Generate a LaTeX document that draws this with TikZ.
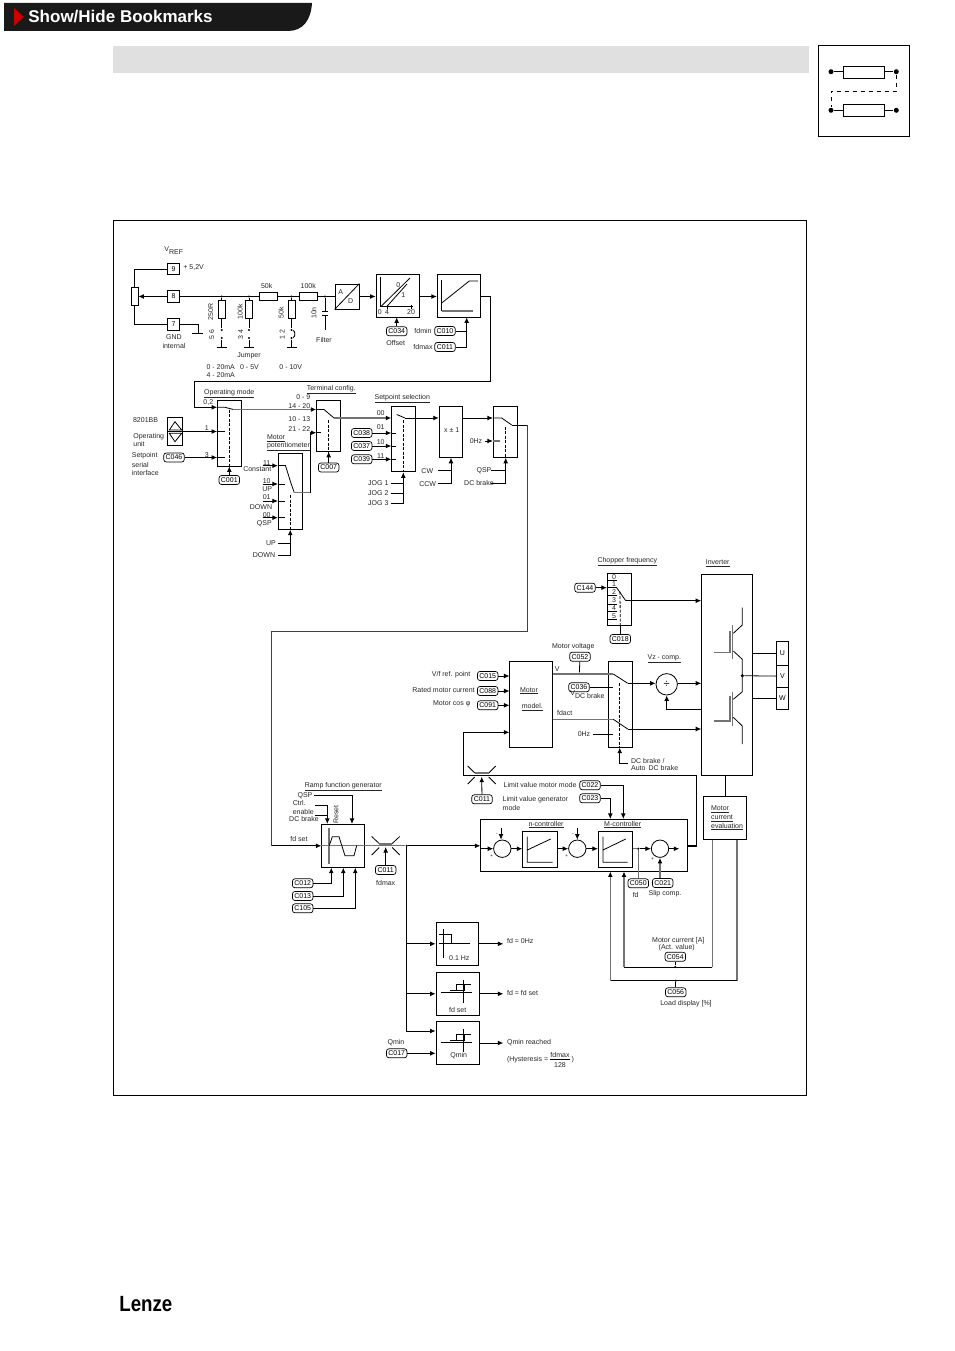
\documentclass[tikz,border=0pt]{standalone}
\usepackage{fontspec}
\setmainfont{Liberation Sans}
\usepackage{tikz}
\usetikzlibrary{arrows.meta}

\begin{document}
\begin{tikzpicture}[x=1pt,y=-1pt,line width=.8pt,
            every node/.style={font=\fontsize{7}{8}\selectfont,inner sep=0pt},
            box/.style={draw,rectangle,minimum width=#1,minimum height=#1},
            code/.style={draw,rectangle,rounded corners=2.5pt,line width=.7pt,minimum width=20.5pt,minimum height=9pt},
            term/.style={draw,rectangle,minimum width=12.5pt,minimum height=11.5pt},
            sumc/.style={draw,circle,minimum size=17.4pt},
            jd/.style={fill=black,circle,minimum size=2.4pt},
            sd/.style={fill=black,circle,minimum size=5pt},
            sig/.style={-{Latex[length=5.5pt,width=4.8pt,color=black]}},
            gline/.style={color=black!55,line width=1.3pt},
            dash1/.style={dash pattern=on 3pt off 1.5pt}]
            \useasboundingbox (0,0) rectangle (954,1351);

            \fill[black!90] (4,3) -- (312,3) .. controls (311,20) and (303,31) .. (288,31) -- (4,31) -- cycle;
            \fill[red!80!black] (14,8) -- (24,17) -- (14,26) -- cycle;
            \node[anchor=west,white,font=\fontsize{17}{18}\selectfont\bfseries] (title) at (28,17) {Show/Hide Bookmarks};
            \fill[black!12] (113,46) rectangle (809,73);
            \draw[line width=1.3pt] (113.5,220.5) rectangle (806.5,1095.5);
            \node[xscale=.85,anchor=west,font=\fontsize{22}{23}\selectfont\bfseries] (logo) at (119,1304) {Lenze};

            \node[box=91pt] (smallbox) at (864,90.5) {};
            \node[box=12.3pt,minimum width=41.4pt] (sr1) at (864,72.2) {};
            \node[box=12.3pt,minimum width=41.4pt] (sr2) at (864,110.5) {};
            \node[sd] (sd1) at (831,71.7) {};
            \node[sd] (sd2) at (896.3,71.7) {};
            \node[sd] (sd3) at (831,110.3) {};
            \node[sd] (sd4) at (896.3,110.3) {};
            \draw[line width=1.5pt] (sd1) -- (sr1.west |- sd1);
            \draw[line width=1.5pt] (sr1.east |- sd2) -- (sd2);
            \draw (sd3) -- (sr2.west |- sd3);
            \draw (sr2.east |- sd4) -- (sd4);
            \draw[dash pattern=on 4pt off 4pt] (sd2) -- ++(0,19.3) -| (sd3);

            \begin{scope}
                \node[term] (t9) at (173.5,269) {9};
                \node[term] (t8) at (173.5,296.5) {8};
                \node[term] (t7) at (173.5,324.5) {7};
                \node[box=18pt,minimum width=7pt] (pot) at (134.5,296.5) {};
                \node[box=7.5pt,minimum width=18pt] (r50) at (268,296.5) {};
                \node[box=7.5pt,minimum width=18pt] (r100) at (308,296.5) {};
                \node[box=17.5pt,minimum width=7pt] (ra) at (221.7,309.5) {};
                \node[box=17.5pt,minimum width=7pt] (rb) at (249,309.5) {};
                \node[box=17.5pt,minimum width=7pt] (rc) at (291.5,309.5) {};
                \node[box=25pt,minimum width=24pt] (adconv) at (347,296.5) {};
                \node[box=43pt] (offbox) at (397.5,295.5) {};
                \node[box=43pt,minimum width=43.5pt] (limbox) at (459,295.5) {};

                \node[box=66pt,minimum width=24pt] (opmode) at (229.5,433) {};
                \node[box=51.3pt,minimum width=24pt] (termcfg) at (328.7,425.7) {};
                \node[box=65.7pt,minimum width=23.6pt] (setsel) at (403.5,439) {};
                \node[box=51.3pt,minimum width=23.7pt] (signbox) at (451,431.7) {};
                \node[box=51.3pt,minimum width=24pt] (brakesw) at (505.3,431.7) {};
                \node[box=76pt,minimum width=24pt] (potbox) at (290.3,491.3) {};
                \node[box=28.4pt,minimum width=15.4pt] (opunit) at (175,431.5) {};

                \node[box=52pt,minimum width=24pt] (chopper) at (619.3,599.7) {};
                \node[box=201pt,minimum width=50.6pt,line width=1pt] (inverter) at (727,674.5) {};
                \node[box=85.6pt,minimum width=42.3pt] (model) at (531,704.5) {};
                \node[box=85.6pt,minimum width=23.7pt] (dcsw) at (620.2,704.5) {};
                \node[box=23.3pt,minimum width=11.6pt] (phu) at (782.5,653.3) {U};
                \node[box=22.3pt,minimum width=11.6pt] (phv) at (782.5,676.1) {V};
                \node[box=22.3pt,minimum width=11.6pt] (phw) at (782.5,698.4) {W};
                \node[sumc,minimum size=21.4pt,font=\fontsize{11}{11}\selectfont] (vzdiv) at (666.7,684.3) {÷};

                \node[box=43pt] (ramp) at (343.2,845.8) {};
                \node[box=51.7pt,minimum width=206.6pt] (ctrl) at (584,845.2) {};
                \node[box=36pt,minimum width=35pt] (nctrl) at (540.2,849.3) {};
                \node[box=36pt,minimum width=34.4pt] (mctrl) at (615.5,849.3) {};
                \node[box=42.6pt,minimum width=43.4pt] (mceval) at (725,818) {};
                \node[sumc] (sum1) at (502.3,848.7) {};
                \node[sumc] (sum2) at (577.3,848.7) {};
                \node[sumc] (sum3) at (660,848.7) {};

                \node[box=43pt,minimum width=42.7pt] (qzero) at (457.3,943.8) {};
                \node[box=43pt,minimum width=43.7pt] (qset) at (457.8,993.8) {};
                \node[box=42.6pt,minimum width=43.7pt] (qmin) at (457.8,1043) {};
            \end{scope}

            \begin{scope}[every node/.append style={code}]
                \node (c034) at (396.7,331.3) {C034};
                \node (c010) at (445,331) {C010};
                \node (c011a) at (445,347) {C011};
                \node (c046) at (174,457.5) {C046};
                \node (c001) at (229.3,480) {C001};
                \node (c007) at (328.7,467.5) {C007};
                \node (c038) at (361.7,433) {C038};
                \node (c037) at (361.7,446) {C037};
                \node (c039) at (361.7,459.3) {C039};
                \node (c144) at (585,587.7) {C144};
                \node (c018) at (620.3,639) {C018};
                \node (c052) at (580,656.7) {C052};
                \node (c036) at (579,687.3) {C036};
                \node (c015) at (487.7,676) {C015};
                \node (c088) at (487.7,691) {C088};
                \node (c091) at (487.7,705.3) {C091};
                \node (c011b) at (482,799.3) {C011};
                \node (c022) at (590,785.3) {C022};
                \node (c023) at (590,798.3) {C023};
                \node (c012) at (302.7,883.3) {C012};
                \node (c013) at (302.7,896) {C013};
                \node (c105) at (302.7,908.3) {C105};
                \node (c011c) at (385.7,870) {C011};
                \node (c050) at (638.3,883.3) {C050};
                \node (c021) at (662.7,883) {C021};
                \node (c054) at (675.3,956.7) {C054};
                \node (c056) at (675.7,992.3) {C056};
                \node (c017) at (396.7,1053.3) {C017};
            \end{scope}

            \node[jd] (d1) at (221.7,296.5) {};
            \node[jd] (d2) at (249,296.5) {};
            \node[jd] (d3) at (291.5,296.5) {};
            \node[jd] (d4) at (325,296.5) {};
            \node[jd] (j5a) at (221.7,330) {};
            \node[jd] (j5b) at (221.7,338) {};
            \node[jd] (j3a) at (249,330) {};
            \node[jd] (j3b) at (249,338) {};
            \node[jd] (j1a) at (291.5,330) {};
            \node[jd] (j1b) at (291.5,338) {};
            \node[jd] (d5) at (406.7,845.8) {};
            \node[jd] (d6) at (638.3,848.7) {};
            \node[jd] (d7) at (579.3,674) {};
            \node[jd,minimum size=3.5pt] (d8) at (742.3,675.7) {};
            \node[jd] (d9) at (675.3,967) {};
            \node[jd] (d10) at (675.7,980.7) {};

            \coordinate (gtop) at (198,324.5);
            \coordinate (gbar) at (198,333);
            \coordinate (g5) at (221.7,347.7);
            \coordinate (g3) at (249,347.7);
            \coordinate (g1) at (291.5,347.7);
            \coordinate (cap1) at (325,311);
            \coordinate (cap2) at (325,315);
            \coordinate (cap3) at (325,330);
            \coordinate (limout) at (490.7,381.7);
            \coordinate (limleft) at (194,381.7);
            \coordinate (opin) at (194,407.3);
            \coordinate (fdmaxj) at (466.7,331);
            \coordinate (sw1a) at (225,407.3);
            \coordinate (sw1b) at (233.3,409.5);
            \coordinate (sw2a) at (324,409.5);
            \coordinate (sw2b) at (334,418);
            \coordinate (sw3a) at (396.7,414.5);
            \coordinate (sw3b) at (405,418);
            \coordinate (sw4a) at (501.7,418);
            \coordinate (sw4b) at (511.7,425);
            \coordinate (brk1) at (527.3,425);
            \coordinate (brk2) at (527.3,631.7);
            \coordinate (brk3) at (271.5,631.7);
            \coordinate (brk4) at (271.5,845.8);
            \coordinate (mpa) at (285.5,465.7);
            \coordinate (mpb) at (291,483.3);
            \coordinate (mpc) at (294.3,492.7);
            \coordinate (mpd) at (310.3,492.7);
            \coordinate (mpe) at (310.3,432.7);
            \coordinate (mi1) at (262.7,465.7);
            \coordinate (mi2) at (262.7,484);
            \coordinate (mi3) at (262.7,501);
            \coordinate (mi4) at (262.7,517.7);
            \coordinate (pu1) at (278.3,543.3);
            \coordinate (pu2) at (290.3,543.3);
            \coordinate (pd1) at (278.3,555);
            \coordinate (jg1) at (391,483.3);
            \coordinate (jg2) at (391,493.3);
            \coordinate (jg3) at (391,503.3);
            \coordinate (jgv) at (403.3,483.3);
            \coordinate (jgw) at (403.3,493.3);
            \coordinate (cw1) at (438,470.7);
            \coordinate (ccw1) at (438,483.3);
            \coordinate (bq1) at (491,470.7);
            \coordinate (bd1) at (491,483.3);
            \coordinate (hz1) at (485,441);
            \coordinate (termd) at (328.7,420);
            \coordinate (setd) at (403.3,420);
            \coordinate (brkd) at (505.7,426.7);
            \coordinate (potd) at (290.3,495);
            \coordinate (chopd) at (620,591.7);
            \coordinate (dcd) at (619.7,683);
            \coordinate (ocha) at (616.7,587.7);
            \coordinate (ochb) at (625.7,600.7);
            \coordinate (vsa) at (613.3,674);
            \coordinate (vsb) at (627.7,683.3);
            \coordinate (fsa) at (613.3,719.3);
            \coordinate (fsb) at (627.7,729);
            \coordinate (vd2) at (612.7,687.3);
            \coordinate (hz2a) at (593.3,734.3);
            \coordinate (hz2b) at (612.7,734.3);
            \coordinate (vzfb) at (666.7,709.3);
            \coordinate (qsw) at (406.7,1031);
            \coordinate (ctr) at (696.7,846);
            \coordinate (ctu) at (696.7,775.3);
            \coordinate (ctl) at (463.3,775.3);
            \coordinate (ctm) at (463.3,732.3);
            \coordinate (ibot) at (610.3,980.7);
            \coordinate (iact) at (624,967);
            \coordinate (imr) at (712.3,967);
            \coordinate (ilr) at (737,980.7);
            \coordinate (dcb) at (628.3,763.3);
            \coordinate (lim1) at (385.7,847);
            \coordinate (lim2) at (481.7,776.7);
            \coordinate (rq1) at (314.3,795.7);
            \coordinate (rqj) at (352,795.7);
            \coordinate (rc1) at (315,805);
            \coordinate (re1) at (315,815);
            \coordinate (rcj) at (327.3,805);
            \coordinate (rb1) at (331.3,883.3);
            \coordinate (rb2) at (343.3,896);
            \coordinate (rb3) at (355.3,908.3);
            \coordinate (cm1) at (623.3,785.3);
            \coordinate (cm2) at (610.3,798.3);
            \coordinate (st1) at (501,828.3);
            \coordinate (st2) at (577.3,828.3);
            \coordinate (s3o) at (679.3,848.7);
            \coordinate (oe1) at (503.3,943.8);
            \coordinate (oe2) at (503.3,993.8);
            \coordinate (oe3) at (503.3,1043);

            \begin{scope}[every edge/.style={draw}]
                \draw (t9.west) -| (pot.north);
                \draw (t7.west) -| (pot.south);
                \path [sig] (t8) edge (pot.east |- t8);
                \draw (t7.east) -- (gtop) -- (gbar);
                \draw (gbar) ++(-6,0) -- ++(11,0);
                \path [-] (t8.east) edge (r50.west);
                \path [-] (r50.east) edge (r100.west);
                \path [-] (r100.east) edge (adconv.west);
                \path [-] (d1) edge (ra.north);
                \path [-] (d2) edge (rb.north);
                \path [-] (d3) edge (rc.north);
                \path [-] (ra.south) edge (j5a);
                \path [-] (rb.south) edge (j3a);
                \path [-] (rc.south) edge (j1a);
                \path [-] (j5b) edge (g5);
                \path [-] (j3b) edge (g3);
                \path [-] (j1b) edge (g1);
                \draw (j1a) .. controls (295.5,331) and (295.5,337) .. (j1b);
                \draw (g5) ++(-5,0) -- ++(10,0);
                \draw (g3) ++(-5,0) -- ++(10,0);
                \draw (g1) ++(-5,0) -- ++(10,0);
                \path [-] (d4) edge (cap1);
                \path [-] (cap2) edge (cap3);
                \draw (cap1) ++(-3,0) -- ++(6,0);
                \draw (cap2) ++(-3,0) -- ++(6,0);
                \path [sig] (adconv.east) edge (offbox.west |- adconv);
                \path [sig] (offbox.east |- adconv) edge (limbox.west |- adconv);
                \path [sig] (c034) edge (offbox.south -| c034);
                \draw (c010.east) -- (fdmaxj);
                \draw [sig] (c011a.east) -| (limbox.south -| fdmaxj);

                \draw [sig] (limbox.east |- t8) -| (limout) -- (limleft) -- (opin) -- (opmode.west |- opin);
                \draw (opmode.west |- opin) -- (sw1a) -- (sw1b);
                \draw [gline,sig] (sw1b) -- (termcfg.west |- sw1b);
                \draw (termcfg.west |- sw1b) -- (sw2a) -- (sw2b);
                \draw [gline,sig] (sw2b) -- (setsel.west |- sw2b);
                \draw (sw3a) -- (sw3b);
                \draw [sig] (sw3b) -- (signbox.west |- sw3b);
                \path [sig] (signbox.east |- sw4a) edge (brakesw.west |- sw4a);
                \draw (brakesw.west |- sw4a) -- (sw4a) -- (sw4b);
                \draw (sw4b) -- (brk1);
                \draw [color=black!75] (brk1) -- (brk2) -- (brk3) -- (brk4);
                \draw [sig] (brk4) -- (ramp.west |- brk4);

                \path [sig] (opunit.east) edge (opmode.west |- opunit);
                \path [sig] (c046.east) edge (opmode.west |- c046);
                \path [-] (opmode.west |- opunit) edge ++(7.5,0);
                \path [-] (opmode.west |- c046) edge ++(7.5,0);
                \path [sig] (c001) edge (opmode.south -| c001);
                \draw [dash1] (sw1b -| c001) -- (opmode.south -| c001);
                \draw [dash1] (termd) -- (termcfg.south -| c007);
                \path [sig] (c007) edge (termcfg.south -| c007);
                \draw [dash1] (setd) -- (setsel.south -| setd);
                \draw [dash1] (brkd) -- (brakesw.south -| brkd);
                \draw [dash1] (potd) -- (potbox.south);
                \draw [dash1] (chopd) -- (chopper.south -| c018);
                \draw [dash1] (dcd) -- (dcsw.south -| dcd);

                \path [sig] (mi1) edge (potbox.west |- mi1);
                \path [sig] (mi2) edge (potbox.west |- mi2);
                \path [sig] (mi3) edge (potbox.west |- mi3);
                \path [sig] (mi4) edge (potbox.west |- mi4);
                \path [-] (potbox.west |- mi1) edge (mpa);
                \path [-] (potbox.west |- mi2) edge ++(6.7,0);
                \path [-] (potbox.west |- mi3) edge ++(6.7,0);
                \path [-] (potbox.west |- mi4) edge ++(6.7,0);
                \draw (mpa) -- (mpb) -- (mpc);
                \draw [gline] (mpc) -- (mpd);
                \draw [sig] (mpd) -- (mpe) -- (termcfg.west |- mpe);
                \path [-] (termcfg.west |- mpe) edge ++(5,0);
                \draw [sig] (pd1) -| (potbox.south);
                \path [-] (pu1) edge (pu2);

                \path [sig] (c038.east) edge (setsel.west |- c038);
                \path [sig] (c037.east) edge (setsel.west |- c037);
                \path [sig] (c039.east) edge (setsel.west |- c039);
                \path [-] (setsel.west |- c038) edge ++(5,0);
                \path [-] (setsel.west |- c037) edge ++(5,0);
                \path [-] (setsel.west |- c039) edge ++(5,0);
                \draw [sig] (jg3) -| (setsel.south -| setd);
                \path [-] (jg1) edge (jgv);
                \path [-] (jg2) edge (jgw);
                \draw [sig] (ccw1) -| (signbox.south);
                \path [-] (cw1) edge (signbox.south |- cw1);
                \draw [sig] (bd1) -| (brakesw.south -| brkd);
                \path [-] (bq1) edge (brkd |- bq1);
                \path [sig] (hz1) edge (brakesw.west |- hz1);
                \draw [gline] (brakesw.west |- hz1) -- ++(7,0);

                \path [sig] (c144.east) edge (chopper.west |- c144);
                \draw (ocha) -- (ochb);
                \path [sig] (ochb) edge (inverter.west |- ochb);
                \path [-] (chopper.south -| c018) edge (c018);

                \path [sig] (c015.east) edge (model.west |- c015);
                \path [sig] (c088.east) edge (model.west |- c088);
                \path [sig] (c091.east) edge (model.west |- c091);
                \draw [gline] (model.east |- vsa) -- (vsa);
                \draw (vsa) -- (vsb);
                \draw [sig] (vsb) -- (vzdiv.west |- vsb);
                \draw [gline] (model.east |- fsa) -- (fsa);
                \draw (fsa) -- (fsb);
                \draw [sig] (fsb) -- (inverter.west |- fsb);
                \path [-] (c052) edge (d7);
                \path [-] (c036.east) edge (vd2);
                \path [-] (hz2a) edge (hz2b);
                \path [sig] (vzdiv.east |- vsb) edge (inverter.west |- vsb);
                \draw [sig] (inverter.west |- vzfb) -- (vzfb) -- (vzdiv.south);
                \draw [sig] (dcb) -| (dcsw.south -| dcd);

                \path [-] (inverter.east |- phu) edge (phu.west);
                \path [-] (d8) edge (phv.west);
                \path [-] (inverter.east |- phw) edge (phw.west);
                \draw (742.3,607.7) -- (742.3,625) -- (733.3,633.3);
                \draw [gline] (732.7,625) -- (732.7,659);
                \draw [gline] (730,630.7) -- (730,652.3) -- (714,652.3);
                \draw (733.3,651) -- (742.3,659.3) -- (742.3,691.7) -- (733.3,699.3);
                \draw [gline] (732.7,691.7) -- (732.7,725.7);
                \draw [gline] (730,696) -- (730,721) -- (714,721);
                \draw (733.3,717.3) -- (742.3,726) -- (742.3,744);

                \draw [line width=1.3pt] (ctrl.east |- ctr) -- (ctr);
                \draw (ctr) -- (ctu) -- (ctl);
                \draw [line width=1.2pt,sig] (ctl) -- (ctm) -- (model.west |- ctm);
                \path [sig] (c011b) edge (lim2);
                \draw [shift={(481.7,775)}] (-14,-9) -- (-7,-2) (14,-9) -- (7,-2) (-14,9) -- (-7,2) (14,9) -- (7,2);
                \draw [gline,shift={(481.7,775)}] (-7,-2) -- (7,-2);

                \path [-] (inverter.south -| mceval) edge (mceval.north);
                \draw [sig] (c022.east) -| (ctrl.north -| cm1);
                \draw [sig] (c023.east) -| (ctrl.north -| cm2);

                \draw [gline] (ramp.west |- brk4) -- (d5);
                \path [sig] (d5) edge (ctrl.west |- d5);
                \path [sig] (c011c) edge (lim1);
                \draw [shift={(385.7,845.5)}] (-14,-9) -- (-6.5,-2) (14,-9) -- (6.5,-2) (-14,9.5) -- (-6.5,2) (14,9.5) -- (6.5,2);
                \draw [gline,line width=1.6pt,shift={(385.7,845.5)}] (-6.5,-1.5) -- (6.5,-1.5);
                \draw [gline] (329,828) -- (329,864);
                \draw (329.3,845.5) -- (332.3,836.7) -- (339,836.7) -- (345,855.7) -- (354,855.7) -- (356.7,845.5);
                \draw [sig] (rq1) -- (rqj) -- (ramp.north -| rqj);
                \draw (rc1) -- (rcj);
                \draw [sig] (re1) -| (rcj) -- (ramp.north -| rcj);
                \draw [sig] (c012.east) -| (ramp.south -| rb1);
                \draw [sig] (c013.east) -| (ramp.south -| rb2);
                \draw [sig] (c105.east) -| (ramp.south -| rb3);

                \path [sig] (ctrl.west |- sum1) edge (sum1.west);
                \path [sig] (sum1.east) edge (nctrl.west |- sum1);
                \path [sig] (nctrl.east |- sum2) edge (sum2.west);
                \path [sig] (sum2.east) edge (mctrl.west |- sum2);
                \draw [gline] (mctrl.east |- d6) -- (d6);
                \path [sig] (d6) edge (sum3.west);
                \path [sig] (sum3.east) edge (s3o);
                \path [sig] (st1) edge (st1 |- sum1.north);
                \path [sig] (st2) edge (sum2.north);
                \draw [gline] (d6) -- (c050.north -| d6);
                \draw [gline,sig] (c021.north -| sum3) -- (sum3.south);

                \draw [gline] (mceval.south -| imr) -- (imr);
                \draw (imr) -- (iact);
                \draw [gline,sig] (iact) -- (ctrl.south -| iact);
                \draw [gline] (mceval.south -| ilr) -- (ilr);
                \draw (ilr) -- (ibot);
                \draw [gline,sig] (ibot) -- (ctrl.south -| ibot);
                \path [-] (d9) edge (c054);
                \path [-] (d10) edge (c056);

                \draw [sig] (d5) -- (qsw) -- (qmin.west |- qsw);
                \path [sig] (qsw |- qzero) edge (qzero.west);
                \path [sig] (qsw |- qset) edge (qset.west);
                \path [sig] (c017.east) edge (qmin.west |- c017);
                \path [sig] (qzero.east) edge (oe1);
                \path [sig] (qset.east) edge (oe2);
                \path [sig] (qmin.east) edge (oe3);
            \end{scope}

            \draw (adconv.south west) -- (adconv.north east);
            \draw (opunit.west) -- (opunit.east);
            \draw (175,421.7) -- (181.7,430) -- (169.3,430) -- cycle;
            \draw (175,441.7) -- (181.7,433.3) -- (169.3,433.3) -- cycle;
            \draw (380.7,276.7) -- (380.7,306.7) -- (412.7,306.7);
            \draw (387,304.5) -- (387,309) (411,304.5) -- (411,309);
            \draw (380.7,306.7) -- (410,278) (386.7,306.7) -- (407,284);
            \draw (441.7,280) -- (441.7,311);
            \draw [gline] (441.7,311) -- (473,311);
            \draw (441.7,303) -- (469.3,281) -- (478,281);
            \draw (527.3,836.7) -- (527.3,862.3) -- (552.7,862.3) (527.3,850) -- (550.7,839);
            \draw (603,836.7) -- (603,862.3) -- (627.7,862.3) (603,850) -- (625.7,839);
            \draw (443.3,929) -- (443.3,958.3) (439,943.3) -- (470,943.3) (439,934.3) -- (451.3,934.3) -- (451.3,943.3);
            \draw (463.3,980) -- (463.3,1002.7) (441,992) -- (472,992) (450,990.3) -- (464.3,990.3) -- (464.3,984.3) (456.7,990.3) -- (456.7,984.3) -- (470.7,984.3);
            \draw (463.3,1029.3) -- (463.3,1051.7) (441,1042.3) -- (472,1042.3) (450,1040.5) -- (464.3,1040.5) -- (464.3,1034.5) (456.7,1040.5) -- (456.7,1034.5) -- (470.7,1034.5);
            \draw (607.3,580) -- (616.7,580) (607.3,587.7) -- (616.7,587.7) (607.3,595) -- (616.7,595) (607.3,604) -- (616.7,604) (607.3,611.7) -- (616.7,611.7) (607.3,619.3) -- (616.7,619.3);
            \draw (550,1059) -- (570,1059);

            \begin{scope}[every node/.append style={text=black!85}]
                \node[anchor=west] (vref) at (164,250.5) {V\raisebox{-2.5pt}{REF}};
                \node[anchor=west] (plus52) at (183,268) {+ 5,2V};
                \node (gnd1) at (174,337) {GND};
                \node (gnd2) at (174,346) {internal};
                \node (l50) at (266.7,285.7) {50k};
                \node (l100) at (308.3,285.7) {100k};
                \node[rotate=90] (l250r) at (210.7,311.7) {250R};
                \node[rotate=90] (l100k) at (240,311.7) {100k};
                \node[rotate=90] (l50k) at (281,313) {50k};
                \node[rotate=90] (l10n) at (314,313) {10n};
                \node[rotate=90] (p56) at (211.7,334.5) {5\hspace{1pt} 6};
                \node[rotate=90] (p34) at (240.7,334.5) {3\hspace{1pt} 4};
                \node[rotate=90] (p12) at (282.3,334.5) {1\hspace{1pt} 2};
                \node (filter) at (324,340) {Filter};
                \node (jumper) at (249,355.7) {Jumper};
                \node (r20a) at (220.7,366.7) {0 - 20mA};
                \node (r5v) at (249.5,366.7) {0 - 5V};
                \node (r10v) at (290.7,366.7) {0 - 10V};
                \node (r20b) at (220.7,375) {4 - 20mA};
                \node (la) at (340.7,291.7) {A};
                \node (ld) at (350.7,300.7) {D};
                \node (x0) at (379.7,311.7) {0};
                \node (x4) at (387,311.7) {4};
                \node (x20) at (411,311.7) {20};
                \node (z0) at (398.3,285) {0};
                \node (z1) at (403.3,295) {1};
                \node (offset) at (395.7,342.7) {Offset};
                \node (fdmin) at (423,331) {fdmin};
                \node (fdmax) at (423,347) {fdmax};

                \node (opl) at (229.3,393.3) {\underline{Operating mode}};
                \node (l02) at (208.3,402.3) {0,2};
                \node (l1) at (206.7,427.7) {1};
                \node (l3) at (206.7,454.7) {3};
                \node[anchor=west] (bb) at (132.7,420) {8201BB};
                \node[anchor=west] (ou1) at (133,436.7) {Operating};
                \node[anchor=west] (ou2) at (133,444) {unit};
                \node[anchor=west] (sp1) at (131.5,456) {Setpoint};
                \node[anchor=west] (sp2) at (131.5,464.7) {serial};
                \node[anchor=west] (sp3) at (131.5,472.7) {interface};
                \node (tcl) at (331.3,389.5) {\underline{Terminal config.}};
                \node (r09) at (303.3,397.3) {0 - 9};
                \node (r14) at (299.3,405.7) {14 - 20};
                \node (r10) at (299.3,419.3) {10 - 13};
                \node (r21) at (299.3,429) {21 - 22};
                \node[anchor=west] (mp1) at (266.7,438.3) {\underline{Motor}};
                \node[anchor=west] (mp2) at (266.7,446.3) {\underline{potentiometer}};
                \node (m11) at (266.7,462.7) {11};
                \node[anchor=east] (mcon) at (271.7,469.3) {Constant};
                \node (m10) at (266.7,480.7) {10};
                \node (mup) at (267.3,489) {UP};
                \node (m01) at (266.7,497.3) {01};
                \node (mdn) at (261,506.7) {DOWN};
                \node (m00) at (266.7,515) {00};
                \node (mqs) at (264.3,523.3) {QSP};
                \node (pup) at (271,543.3) {UP};
                \node (pdn) at (264,555) {DOWN};
                \node (ssl) at (402.3,398.7) {\underline{Setpoint selection}};
                \node (s00) at (380.7,413.3) {00};
                \node (s01) at (380.7,427.3) {01};
                \node (s10) at (380.7,442.3) {10};
                \node (s11) at (380.7,456) {11};
                \node (jog1) at (378.3,483.3) {JOG 1};
                \node (jog2) at (378.3,493.3) {JOG 2};
                \node (jog3) at (378.3,503.3) {JOG 3};
                \node (xpm) at (451.7,430) {x ± 1};
                \node (cw) at (427.3,470.7) {CW};
                \node (ccw) at (427.7,484.3) {CCW};
                \node (hz0) at (476,440.7) {0Hz};
                \node (bqsp) at (484,470.7) {QSP};
                \node (bdc) at (479,483.3) {DC brake};

                \node (chl) at (627.3,561.7) {\underline{Chopper frequency}};
                \node (invl) at (717.7,563.3) {\underline{Inverter}};
                \node[anchor=west] (n0) at (611.7,577) {0};
                \node[anchor=west] (n1) at (611.7,584) {1};
                \node[anchor=west] (n2) at (611.7,592) {2};
                \node[anchor=west] (n3) at (611.7,600.5) {3};
                \node[anchor=west] (n4) at (611.7,608) {4};
                \node[anchor=west] (n5) at (611.7,616) {5};
                \node (mvl) at (573.3,646.7) {Motor voltage};
                \node (vzl) at (664.3,659) {\underline{Vz - comp.}};
                \node[anchor=east] (vfl) at (470.7,674.3) {V/f ref. point};
                \node[anchor=east] (rml) at (475,690.3) {Rated motor current};
                \node[anchor=east] (cosl) at (470.7,703.7) {Motor cos φ};
                \node (mm1) at (529,690.7) {\underline{Motor}};
                \node (mm2) at (532.3,707.3) {\underline{model.}};
                \node (lv) at (557.3,669) {V};
                \node[anchor=west] (fdact) at (556.7,713.3) {fdact};
                \node[anchor=west] (vdcb) at (570,694.5) {V\raisebox{-3pt}{DC brake}};
                \node (hz0b) at (584,734.3) {0Hz};
                \node[anchor=west] (dc1) at (630.7,760.7) {DC brake /};
                \node[anchor=west] (dc2) at (630.7,768.3) {Auto\, DC brake};

                \node (rfl) at (343.3,786.7) {\underline{Ramp function generator}};
                \node (rqsp) at (305,795.7) {QSP};
                \node (rct) at (299.3,802.7) {Ctrl.};
                \node (ren) at (303.3,811.7) {enable};
                \node (rdc) at (304,819.3) {DC brake};
                \node[rotate=90] (rst) at (336,814.3) {Reset};
                \node (fdset) at (299,838.5) {fd set};
                \node (lfdmax) at (385.7,883.3) {fdmax};
                \node[anchor=west] (lm1) at (503.3,785.3) {Limit value motor mode};
                \node[anchor=west] (lm2) at (502.3,799.3) {Limit value generator};
                \node[anchor=west] (lm3) at (502.3,807.7) {mode};
                \node (ncl) at (546,824.7) {\underline{n-controller}};
                \node (mcl) at (622.7,824.7) {\underline{M-controller}};
                \node[anchor=west] (ev1) at (710.7,809.3) {\underline{Motor}};
                \node[anchor=west] (ev2) at (710.7,818.3) {\underline{current}};
                \node[anchor=west] (ev3) at (710.7,826.7) {\underline{evaluation}};
                \node (lfd) at (635.7,895.3) {fd};
                \node (slip) at (665,893.7) {Slip comp.};
                \node (mc1) at (678.3,940.3) {Motor current [A]};
                \node (mc2) at (676.7,948) {(Act. value)};
                \node (load) at (686,1003.3) {Load display [\%]};
                \node[font=\fontsize{5}{5}\selectfont] (p1) at (491.7,855.7) {+};
                \node[font=\fontsize{5}{5}\selectfont] (p2) at (566.7,855.7) {+};
                \node[font=\fontsize{5}{5}\selectfont] (p3) at (652.3,859.3) {+};
                \node[font=\fontsize{5}{5}\selectfont] (m1) at (497,835) {-};
                \node[font=\fontsize{5}{5}\selectfont] (m2) at (573,835) {-};

                \node (g01) at (459.3,957.7) {0.1 Hz};
                \node (gfd) at (457.7,1009.7) {fd set};
                \node (gqm) at (458.7,1055.3) {Qmin};
                \node[anchor=west] (o1) at (506.7,940.7) {fd = 0Hz};
                \node[anchor=west] (o2) at (506.7,993.3) {fd = fd set};
                \node[anchor=west] (o3) at (506.7,1042.7) {Qmin reached};
                \node[anchor=west] (hy1) at (506.7,1059.3) {(Hysteresis =};
                \node (hy2) at (560,1055) {fdmax};
                \node (hy3) at (560,1065.3) {128};
                \node (hy4) at (572.7,1059.3) {)};
                \node (qml) at (396,1042.7) {Qmin};
            \end{scope}
        \end{tikzpicture}
\end{document}
